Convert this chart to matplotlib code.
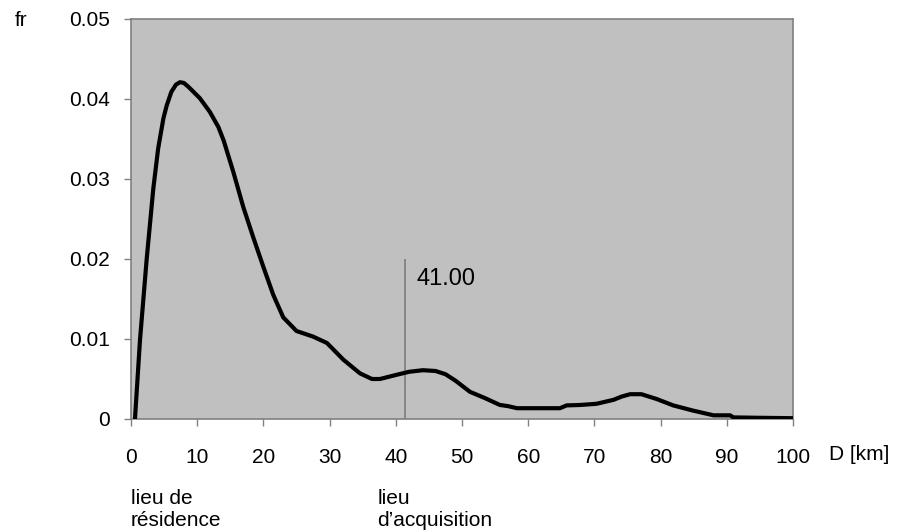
import matplotlib
matplotlib.use("Agg")
import matplotlib.pyplot as plt

plt.rcParams['font.family'] = ['Liberation Sans', 'DejaVu Sans']

# --- data ---
dist_km = [0.6, 1.36, 2.37, 3.37, 4.1, 4.9, 5.4, 6.1, 6.8, 7.4, 8.0, 8.7, 10.4,
           11.9, 13.2, 14.0, 15.45, 16.96, 18.47, 20.0, 21.5, 23.0, 25.0, 27.5,
           29.6, 32.1, 34.6, 36.4, 37.6, 40.0, 42.0, 44.1, 46.0, 47.5, 49.0,
           51.2, 53.5, 55.7, 57.0, 58.3, 62.0, 64.8, 65.8, 67.8, 70.3, 72.9,
           74.1, 75.4, 77.1, 79.4, 81.9, 84.9, 88.0, 90.5, 91.0, 95.0, 100.0]
freq = [0.0, 0.0099, 0.020, 0.0288, 0.0338, 0.0376, 0.0392, 0.0409, 0.0418,
        0.0421, 0.0420, 0.0415, 0.0401, 0.0384, 0.0365, 0.0348, 0.0309, 0.0265,
        0.0227, 0.0190, 0.0155, 0.0127, 0.0110, 0.0103, 0.0095, 0.0074, 0.0057,
        0.0050, 0.0050, 0.0055, 0.0059, 0.0061, 0.0060, 0.0056, 0.0048, 0.0034,
        0.0026, 0.00176, 0.00160, 0.00135, 0.00135, 0.00135, 0.00170, 0.00175,
        0.0019, 0.0024, 0.0028, 0.0031, 0.0031, 0.0025, 0.0017, 0.00105,
        0.00046, 0.00046, 0.0002, 0.00015, 0.0001]

marker_x = 41.4
marker_top = 0.02
marker_label = "41.00"

x_ticks = list(range(0, 101, 10))
y_ticks = [0, 0.01, 0.02, 0.03, 0.04, 0.05]
y_tick_labels = ["0", "0.01", "0.02", "0.03", "0.04", "0.05"]

fig = plt.figure(figsize=(8.97, 5.31), dpi=100)
ax = fig.add_axes([131/897, 1 - 419/531, (793 - 131)/897, 400/531])
ax.set_facecolor('#C0C0C0')

ax.plot(dist_km, freq, color='black', lw=3, solid_joinstyle='round',
        solid_capstyle='round', zorder=3)
ax.vlines(marker_x, 0, marker_top, color='#808080', lw=1.3, zorder=2)
ax.text(marker_x + 1.8, 0.0175, marker_label, fontsize=17, va='center',
        ha='left', color='black')

ax.set_xlim(0, 100)
ax.set_ylim(0, 0.05)
ax.set_xticks(x_ticks)
ax.set_yticks(y_ticks)
ax.set_yticklabels(y_tick_labels)

for s in ax.spines.values():
    s.set_color('#808080')
    s.set_linewidth(1.2)

ax.tick_params(axis='x', direction='out', length=5, width=1, color='#808080',
               pad=16, labelsize=15)
ax.tick_params(axis='y', direction='out', length=5, width=1, color='#808080',
               pad=10, labelsize=15)

fig.text(15/897, 1 - 20/531, "fr", fontsize=15, va='center', ha='left')
fig.text(829/897, 1 - 455/531, "D [km]", fontsize=15, va='center', ha='left')

xt = ax.get_xaxis_transform()
ax.text(0, -0.176, "lieu de\nrésidence", transform=xt, fontsize=15,
        va='top', ha='left', linespacing=1.15)
ax.text(37.2, -0.176, "lieu\nd\u2019acquisition", transform=xt, fontsize=15,
        va='top', ha='left', linespacing=1.15)

fig.savefig("out.png", dpi=100)
